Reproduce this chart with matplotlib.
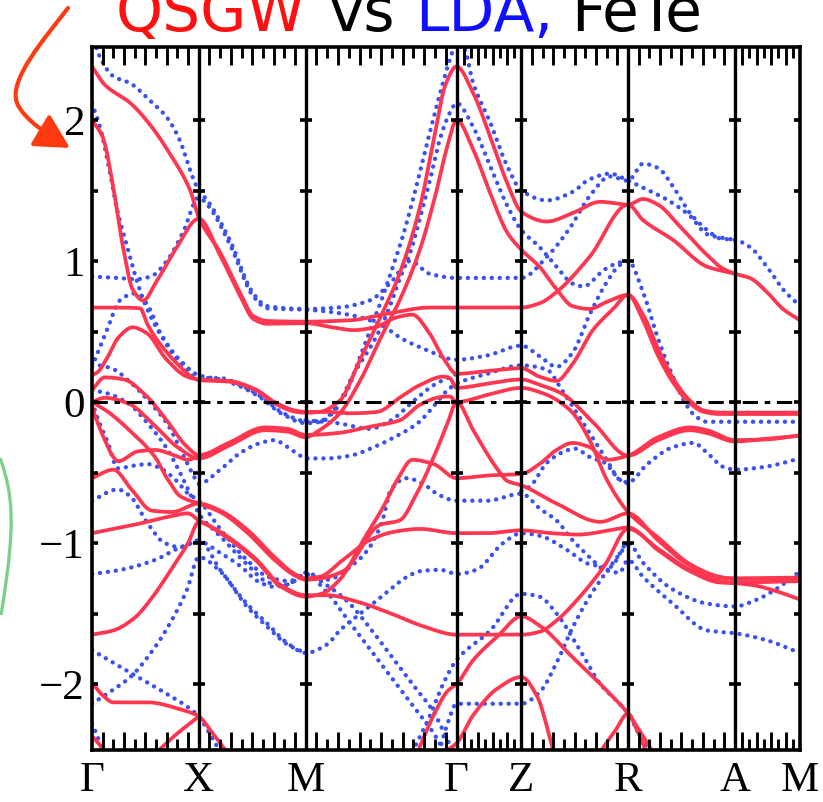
import numpy as np
import matplotlib
matplotlib.use("Agg")
import matplotlib.pyplot as plt
import matplotlib.transforms as mtransforms
from matplotlib.path import Path
from matplotlib.patches import PathPatch, FancyArrowPatch

# high-symmetry path (units of pi/a), FeTe tetragonal cell
k_points = [0.0, 1.0, 2.0, 3.414, 4.02, 5.02, 6.02, 6.63]
k_labels = ["Γ", "X", "M", "Γ", "Z", "R", "A", "M"]
kpts_per_segment = [10, 10, 14, 9, 10, 10, 9]
e_min, e_max = -2.468, 2.518

# QSGW bands, (k, E in eV) knots
qsgw_upper = [
    [(0, 2.38), (0.12, 2.25), (0.36, 2.12), (0.54, 1.97), (0.73, 1.76), (0.92, 1.50), (1.0, 1.31),
     (1.2, 1.06), (1.39, 0.77), (1.51, 0.61), (1.64, 0.575), (2.0, 0.57), (2.42, 0.58), (2.79, 0.63),
     (3.16, 0.67), (3.414, 0.67), (3.7, 0.67), (4.02, 0.67), (4.19, 0.70), (4.35, 0.78), (4.66, 1.03),
     (5.02, 1.40), (5.16, 1.29), (5.44, 1.15), (5.76, 0.96), (6.02, 0.91)],
    [(0, 2.0), (0.1, 1.88), (0.2, 1.52), (0.29, 1.10), (0.38, 0.80), (0.48, 0.72), (0.6, 0.85),
     (0.78, 1.08), (1.0, 1.30), (1.2, 1.04), (1.39, 0.75), (1.51, 0.59), (1.64, 0.555), (2.0, 0.56),
     (2.25, 0.53), (2.45, 0.51), (2.65, 0.53), (2.85, 0.6), (3.0, 0.62), (3.15, 0.5), (3.3, 0.3),
     (3.414, 0.2), (3.7, 0.22), (4.02, 0.24), (4.19, 0.18), (4.35, 0.15), (4.5, 0.27), (4.69, 0.51),
     (4.88, 0.66), (5.02, 0.76), (5.16, 0.58), (5.3, 0.33), (5.44, 0.14), (5.6, -0.01), (5.73, -0.07),
     (5.88, -0.085), (6.02, -0.085), (6.63, -0.085)],
    [(0, 0.67), (0.25, 0.67), (0.45, 0.665), (0.52, 0.55), (0.61, 0.44), (0.8, 0.27), (0.95, 0.17),
     (1.0, 0.156), (1.28, 0.145), (1.53, 0.085), (1.71, -0.01), (1.9, -0.068), (2.0, -0.076),
     (2.13, -0.07), (2.32, 0.01), (2.51, 0.3), (2.7, 0.6), (2.88, 0.91), (3.07, 1.38), (3.2, 1.86),
     (3.31, 2.25), (3.414, 2.38), (3.57, 2.19), (3.73, 1.88), (3.89, 1.55), (4.02, 1.35), (4.26, 1.28),
     (4.5, 1.34), (4.76, 1.42), (5.02, 1.40), (5.16, 1.44), (5.3, 1.40), (5.5, 1.25), (5.75, 1.05),
     (5.9, 0.95), (6.02, 0.91), (6.16, 0.88), (6.32, 0.78), (6.47, 0.66), (6.63, 0.58)],
]

qsgw_fermi = [
    [(0, 0.19), (0.05, 0.21), (0.14, 0.31), (0.25, 0.46), (0.38, 0.53), (0.51, 0.49), (0.7, 0.30),
     (0.89, 0.18), (1.0, 0.16), (1.28, 0.15), (1.53, 0.09), (1.71, 0.0), (1.9, -0.06), (2.0, -0.07),
     (2.2, -0.07), (2.42, -0.08), (2.67, -0.07), (2.88, 0.03), (3.07, 0.12), (3.29, 0.18), (3.35, 0.17),
     (3.414, 0.10), (3.7, 0.13), (4.02, 0.16), (4.2, 0.12), (4.4, 0.06), (4.7, -0.15), (5.02, -0.38),
     (5.3, -0.27), (5.6, -0.2), (5.76, -0.22), (6.02, -0.28), (6.32, -0.26), (6.63, -0.24)],
    [(0, 0.085), (0.12, 0.175), (0.3, 0.16), (0.5, 0.05), (0.7, -0.13), (0.88, -0.31), (1.0, -0.376),
     (1.28, -0.29), (1.62, -0.18), (1.83, -0.19), (2.0, -0.234), (2.3, -0.22), (2.6, -0.175),
     (2.88, -0.13), (3.07, -0.02), (3.26, 0.035), (3.35, 0.04), (3.414, 0.0), (3.7, 0.05), (4.02, 0.1),
     (4.23, 0.06), (4.48, -0.06), (4.66, -0.27), (4.82, -0.55), (5.02, -0.78), (5.3, -0.96),
     (5.6, -1.15), (5.88, -1.24), (6.02, -1.255), (6.63, -1.25)],
    [(0, 0.0), (0.12, 0.03), (0.34, -0.01), (0.59, -0.17), (0.8, -0.32), (1.0, -0.40), (1.28, -0.31),
     (1.62, -0.2), (1.83, -0.21), (2.0, -0.25), (2.13, -0.2), (2.32, -0.08), (2.51, 0.15), (2.7, 0.45),
     (2.88, 0.72), (3.07, 1.08), (3.21, 1.45), (3.33, 1.82), (3.414, 2.0), (3.57, 1.79), (3.73, 1.48),
     (3.89, 1.20), (4.02, 1.08), (4.19, 0.96), (4.35, 0.80), (4.5, 0.68), (4.66, 0.66), (4.82, 0.71),
     (5.02, 0.76), (5.16, 0.62), (5.3, 0.38), (5.44, 0.17), (5.6, 0.01), (5.73, -0.06), (5.88, -0.075),
     (6.02, -0.075), (6.63, -0.075)],
    [(0, -0.03), (0.03, -0.1), (0.12, -0.27), (0.2, -0.39), (0.245, -0.42), (0.43, -0.35),
     (0.59, -0.34), (0.78, -0.38), (0.9, -0.41), (1.0, -0.38)],
]

qsgw_lower = [
    [(0, -1.65), (0.2, -1.62), (0.4, -1.53), (0.55, -1.40), (0.74, -1.19), (0.9, -1.0), (1.0, -0.85),
     (1.2, -0.93), (1.53, -1.12), (1.77, -1.31), (2.0, -1.38), (2.15, -1.36), (2.32, -1.26),
     (2.54, -0.98), (2.73, -0.74), (2.86, -0.55), (3.0, -0.41), (3.2, -0.44), (3.414, -0.54),
     (3.73, -0.52), (4.02, -0.51), (4.19, -0.44), (4.35, -0.34), (4.5, -0.29), (4.66, -0.32),
     (4.82, -0.41), (5.02, -0.38), (5.3, -0.25), (5.6, -0.18), (5.76, -0.2), (6.02, -0.27),
     (6.32, -0.265), (6.63, -0.235)],
    [(0, -0.54), (0.2, -0.48), (0.37, -0.62), (0.56, -0.77), (0.75, -0.78), (1.0, -0.72), (1.2, -0.77),
     (1.46, -0.91), (1.71, -1.10), (1.9, -1.22), (2.0, -1.25), (2.13, -1.24), (2.35, -1.12),
     (2.6, -0.98), (2.83, -0.92), (3.07, -0.9), (3.414, -0.93), (3.7, -0.93), (4.02, -0.91),
     (4.3, -0.93), (4.55, -0.94), (4.85, -0.91), (5.02, -0.89), (5.3, -1.05), (5.6, -1.2),
     (5.88, -1.28), (6.02, -1.285), (6.2, -1.3), (6.4, -1.34), (6.63, -1.4)],
    [(0, -0.93), (0.4, -0.87), (0.74, -0.81), (0.9, -0.79), (1.0, -0.84), (1.2, -0.92), (1.53, -1.11),
     (1.77, -1.30), (2.0, -1.37), (2.2, -1.37), (2.5, -1.42), (2.8, -1.5), (3.1, -1.59), (3.414, -1.65),
     (3.7, -1.65), (4.02, -1.65), (4.19, -1.63), (4.35, -1.55), (4.57, -1.38), (4.8, -1.16),
     (5.02, -0.9), (5.3, -1.04), (5.6, -1.19), (5.88, -1.27), (6.02, -1.28), (6.63, -1.27)],
    [(0, 0.0), (0.15, -0.07), (0.35, -0.2), (0.59, -0.39), (0.71, -0.55), (0.83, -0.67), (1.0, -0.72),
     (1.2, -0.78), (1.46, -0.93), (1.71, -1.12), (1.9, -1.23), (2.0, -1.26), (2.15, -1.25),
     (2.35, -1.2), (2.7, -0.87), (2.88, -0.84), (3.04, -0.65), (3.2, -0.39), (3.33, -0.15),
     (3.414, 0.0), (3.57, -0.2), (3.8, -0.48), (3.89, -0.56), (4.02, -0.59), (4.35, -0.72),
     (4.76, -0.85), (5.02, -0.79), (5.3, -0.98), (5.6, -1.16), (5.88, -1.245), (6.02, -1.25),
     (6.63, -1.245)],
    [(0, -1.99), (0.1, -2.08), (0.2, -2.13), (0.52, -2.13), (0.83, -2.18), (1.0, -2.23), (1.13, -2.35),
     (1.26, -2.48)],
    [(0.61, -2.48), (0.8, -2.35), (1.0, -2.23)],
    [(0, -2.37), (0.06, -2.42), (0.12, -2.48)],
    [(3.05, -2.48), (3.2, -2.22), (3.33, -2.05), (3.414, -2.0), (3.57, -1.83), (3.8, -1.66),
     (4.02, -1.52), (4.2, -1.59), (4.5, -1.81), (4.76, -2.0), (5.02, -2.21), (5.16, -2.37),
     (5.25, -2.48)],
    [(3.3, -2.48), (3.414, -2.42), (3.57, -2.22), (3.8, -2.03), (4.02, -1.95), (4.17, -2.09),
     (4.27, -2.33), (4.32, -2.48)],
    [(4.76, -2.48), (4.9, -2.33), (5.02, -2.21), (5.1, -2.32), (5.19, -2.48)],
]

# LDA bands, (k, E in eV) knots
lda_upper = [
    [(0, 2.62), (0.06, 2.47), (0.2, 2.31), (0.36, 2.26), (0.54, 2.14), (0.7, 2.02), (0.82, 1.86),
     (0.94, 1.60), (1.0, 1.50), (1.08, 1.43), (1.29, 1.15), (1.51, 0.77), (1.64, 0.68), (2.0, 0.66),
     (2.3, 0.67), (2.6, 0.72), (2.8, 0.85), (2.98, 1.0), (3.16, 0.91), (3.414, 0.88), (3.7, 0.88),
     (4.02, 0.88), (4.26, 1.03), (4.48, 1.24), (4.66, 1.46), (4.85, 1.60), (5.02, 1.57), (5.16, 1.69),
     (5.3, 1.66), (5.44, 1.53), (5.6, 1.34), (5.76, 1.22), (5.88, 1.16), (6.02, 1.15), (6.16, 1.10),
     (6.32, 0.96), (6.47, 0.80), (6.63, 0.68)],
    [(0, 2.12), (0.075, 1.95), (0.17, 1.62), (0.23, 1.38), (0.33, 1.10), (0.42, 0.86), (0.51, 0.67),
     (0.64, 0.48), (0.8, 0.30), (1.0, 0.17), (1.2, 0.17), (1.39, 0.12), (1.58, 0.04), (1.77, -0.07),
     (1.95, -0.13), (2.0, -0.14), (2.15, -0.13), (2.3, -0.02), (2.45, 0.2), (2.6, 0.38), (2.7, 0.52),
     (2.79, 0.68), (2.88, 0.87), (2.98, 1.06), (3.07, 1.3), (3.16, 1.56), (3.26, 1.87), (3.35, 2.05),
     (3.414, 2.12), (3.57, 1.95), (3.73, 1.67), (3.89, 1.39), (4.02, 1.22), (4.19, 1.10), (4.35, 0.96),
     (4.5, 0.84), (4.6, 0.82), (4.8, 0.94), (4.94, 0.99), (5.02, 1.0)],
    [(0, 0.89), (0.25, 0.88), (0.4, 0.87), (0.55, 0.89), (0.7, 1.0), (0.85, 1.2), (1.0, 1.45),
     (1.08, 1.40), (1.29, 1.12), (1.51, 0.75), (1.64, 0.665), (2.0, 0.655), (2.4, 0.62), (2.7, 0.55),
     (2.9, 0.45), (3.1, 0.38), (3.414, 0.3), (3.7, 0.33), (4.02, 0.4), (4.2, 0.32), (4.35, 0.25),
     (4.5, 0.35), (4.66, 0.62), (4.82, 0.85), (4.94, 0.97), (5.02, 1.0), (5.16, 0.78), (5.3, 0.45),
     (5.44, 0.18), (5.55, 0.0), (5.65, -0.1), (5.76, -0.14), (6.02, -0.14), (6.63, -0.14)],
    [(0, 0.25), (0.14, 0.51), (0.26, 0.72), (0.4, 0.77), (0.51, 0.70), (0.64, 0.49), (0.82, 0.30),
     (1.0, 0.19), (1.2, 0.16), (1.39, 0.11), (1.58, 0.03), (1.77, -0.08), (2.0, -0.15), (2.15, -0.14),
     (2.25, -0.08), (2.39, 0.08), (2.5, 0.3), (2.6, 0.5), (2.7, 0.7), (2.8, 0.92), (2.9, 1.15),
     (3.0, 1.42), (3.1, 1.72), (3.2, 2.02), (3.3, 2.3), (3.36, 2.45), (3.414, 2.55), (3.48, 2.52),
     (3.57, 2.26), (3.73, 1.98), (3.89, 1.67), (4.02, 1.50), (4.26, 1.43), (4.5, 1.49), (4.66, 1.58),
     (4.85, 1.62), (5.02, 1.57), (5.16, 1.52), (5.35, 1.45), (5.6, 1.32), (5.76, 1.19), (6.02, 1.15)],
]

lda_fermi = [
    [(0, 0.27), (0.18, 0.24), (0.36, 0.14), (0.55, -0.01), (0.71, -0.16), (0.83, -0.34), (0.95, -0.52),
     (1.0, -0.58), (1.2, -0.48), (1.39, -0.36), (1.58, -0.29), (1.71, -0.27), (1.83, -0.32),
     (1.95, -0.38), (2.0, -0.40), (2.2, -0.4), (2.42, -0.38), (2.64, -0.32), (2.83, -0.25),
     (3.05, -0.15), (3.2, -0.03), (3.33, 0.085), (3.414, 0.13), (3.7, 0.2), (4.02, 0.26), (4.26, 0.23),
     (4.4, 0.085), (4.5, -0.03), (4.66, -0.22), (4.82, -0.41), (4.94, -0.55), (5.02, -0.57),
     (5.2, -0.44), (5.44, -0.32), (5.63, -0.29), (5.76, -0.36), (5.91, -0.46), (6.02, -0.48),
     (6.3, -0.46), (6.63, -0.40)],
    [(2.0, -0.13), (2.3, -0.15), (2.6, -0.19), (2.8, -0.13), (3.0, 0.0), (3.2, 0.12), (3.414, 0.2)],
    [(0, 0.0), (0.06, -0.13), (0.15, -0.29), (0.24, -0.47), (0.4, -0.45), (0.52, -0.44), (0.64, -0.47),
     (0.78, -0.55), (0.9, -0.65), (1.0, -0.70), (1.2, -0.9), (1.45, -1.12), (1.65, -1.24),
     (1.85, -1.27), (2.0, -1.22), (2.2, -1.3), (2.4, -1.42), (2.6, -1.6), (2.8, -1.8), (3.0, -2.0),
     (3.2, -2.2), (3.3, -2.35), (3.38, -2.48)],
    [(4.02, -0.63), (4.1, -0.6), (4.26, -0.43), (4.46, -0.34), (4.52, -0.33), (4.66, -0.39),
     (4.8, -0.43), (4.94, -0.55), (5.02, -0.58)],
]

lda_lower = [
    [(0, 0.085), (0.15, 0.06), (0.34, -0.01), (0.52, -0.15), (0.71, -0.34), (0.83, -0.51),
     (0.93, -0.67), (1.0, -0.79), (1.2, -0.95), (1.45, -1.15), (1.65, -1.28), (1.8, -1.3),
     (1.93, -1.25), (2.0, -1.21), (2.2, -1.26), (2.45, -1.15), (2.6, -1.03), (2.72, -0.84),
     (2.8, -0.62), (2.95, -0.54), (3.1, -0.58), (3.25, -0.66), (3.414, -0.70), (3.7, -0.70),
     (4.02, -0.65), (4.2, -0.76), (4.35, -0.84), (4.5, -0.98), (4.66, -1.1), (4.8, -1.19),
     (4.94, -1.21), (5.02, -1.12), (5.16, -1.24), (5.44, -1.43), (5.76, -1.62), (6.02, -1.64),
     (6.32, -1.69), (6.63, -1.78)],
    [(0, -0.70), (0.24, -0.62), (0.36, -0.67), (0.52, -0.86), (0.68, -1.0), (0.83, -1.03),
     (1.0, -0.98), (1.2, -1.19), (1.45, -1.43), (1.64, -1.57), (1.83, -1.71), (2.0, -1.78),
     (2.2, -1.72), (2.32, -1.62), (2.48, -1.52), (2.63, -1.43), (2.79, -1.33), (2.95, -1.24),
     (3.07, -1.2), (3.26, -1.19), (3.414, -1.22), (3.6, -1.19), (3.85, -1.0), (4.02, -0.93),
     (4.2, -0.95), (4.45, -1.05), (4.66, -1.15), (4.85, -1.17), (5.02, -1.0), (5.16, -1.14),
     (5.44, -1.33), (5.76, -1.43), (6.02, -1.45), (6.2, -1.41), (6.4, -1.33), (6.63, -1.2)],
    [(0, -1.22), (0.27, -1.19), (0.59, -1.12), (0.83, -1.03), (1.0, -0.99), (1.2, -1.07), (1.4, -1.17),
     (1.55, -1.27), (1.7, -1.31), (1.85, -1.29), (2.0, -1.22), (2.2, -1.35), (2.4, -1.55),
     (2.6, -1.75), (2.8, -1.95), (3.0, -2.15), (3.2, -2.35), (3.3, -2.48)],
    [(0, -1.76), (0.2, -1.85), (0.36, -1.92), (0.52, -1.99), (0.7, -2.07), (0.89, -2.16), (1.0, -2.23),
     (1.1, -2.35), (1.2, -2.48)],
    [(0, -2.14), (0.2, -2.04), (0.36, -1.95), (0.57, -1.76), (0.73, -1.57), (0.89, -1.33), (1.0, -1.1),
     (1.2, -1.2), (1.45, -1.45), (1.65, -1.6), (1.83, -1.72), (2.0, -1.78)],
    [(0, -2.28), (0.05, -2.37), (0.1, -2.48)],
    [(3.0, -2.48), (3.15, -2.25), (3.3, -1.98), (3.414, -1.83), (3.73, -1.62), (4.02, -1.36),
     (4.19, -1.38), (4.35, -1.5), (4.57, -1.76), (4.76, -2.0), (4.94, -2.14), (5.02, -2.21),
     (5.12, -2.35), (5.22, -2.48)],
    [(3.25, -2.48), (3.33, -2.28), (3.414, -2.14), (3.7, -2.14), (4.02, -2.14), (4.19, -2.06),
     (4.35, -1.85), (4.5, -1.6), (4.66, -1.38), (4.82, -1.2), (5.02, -1.0)],
]


def pchip(xk, yk, xs):
    xk = np.asarray(xk, float)
    yk = np.asarray(yk, float)
    h = np.diff(xk)
    d = np.diff(yk) / h
    m = np.zeros_like(yk)
    if len(xk) > 2:
        for i in range(1, len(xk) - 1):
            if d[i - 1] * d[i] > 0:
                w1 = 2 * h[i] + h[i - 1]
                w2 = h[i] + 2 * h[i - 1]
                m[i] = (w1 + w2) / (w1 / d[i - 1] + w2 / d[i])
    m[0] = d[0]
    m[-1] = d[-1]
    idx = np.clip(np.searchsorted(xk, xs) - 1, 0, len(xk) - 2)
    t = (xs - xk[idx]) / h[idx]
    h00 = 2 * t**3 - 3 * t**2 + 1
    h10 = t**3 - 2 * t**2 + t
    h01 = -2 * t**3 + 3 * t**2
    h11 = t**3 - t**2
    return (h00 * yk[idx] + h10 * h[idx] * m[idx]
            + h01 * yk[idx + 1] + h11 * h[idx] * m[idx + 1])


def band_curve(points):
    k = [p[0] for p in points]
    e = [p[1] for p in points]
    ks = np.linspace(k[0], k[-1], int((k[-1] - k[0]) * 150) + 2)
    return ks, pchip(k, e, ks)


plt.rcParams["font.family"] = ["Liberation Serif", "DejaVu Serif"]
plt.rcParams["axes.unicode_minus"] = True

fig = plt.figure(figsize=(8.23, 8.02), dpi=100)
ax = fig.add_axes([92 / 823, 1 - 750 / 802, 708 / 823, 703 / 802])
ax.set_xlim(k_points[0], k_points[-1])
ax.set_ylim(e_min, e_max)

lda_color = "#3a52ee"
qsgw_color = "#ff3650"

for band in lda_upper + lda_fermi + lda_lower:
    ks, es = band_curve(band)
    ax.plot(ks, es, color=lda_color, lw=3.1, linestyle=(0, (0.05, 1.8)),
            dash_capstyle="round", zorder=2)

for band in qsgw_upper + qsgw_fermi + qsgw_lower:
    ks, es = band_curve(band)
    ax.plot(ks, es, color=qsgw_color, lw=2.7, solid_capstyle="round", zorder=3)

# symmetry lines with small energy marks every 0.5 eV
marks = np.arange(-2.0, 2.01, 0.5)
for kp in k_points:
    if 0 < kp < k_points[-1]:
        ax.axvline(kp, color="black", lw=2.4, zorder=4)
    ax.plot([kp] * len(marks), marks, ls="none", marker="_", ms=8, mew=2.6,
            color="black", zorder=4)

# Fermi level
ax.axhline(0.0, color="black", lw=2.2, linestyle=(0, (5, 2.2, 1.8, 2.2)), zorder=5)

# k-mesh ticks along top and bottom
trans = mtransforms.blended_transform_factory(ax.transData, ax.transAxes)
for i, n in enumerate(kpts_per_segment):
    ticks = np.linspace(k_points[i], k_points[i + 1], n + 1)[1:-1]
    for j, kt in enumerate(ticks):
        length = 0.026 if j % 2 == 0 else 0.015
        ax.plot([kt, kt], [1, 1 - length], transform=trans, color="black", lw=2.1,
                solid_capstyle="butt", zorder=5)
        ax.plot([kt, kt], [0, length], transform=trans, color="black", lw=2.1,
                solid_capstyle="butt", zorder=5)

for side in ax.spines.values():
    side.set_linewidth(2.6)
    side.set_zorder(6)

ax.set_xticks(k_points)
ax.set_xticklabels(k_labels, fontsize=31)
ax.set_yticks([-2, -1, 0, 1, 2])
ax.set_yticklabels(["\u22122", "\u22121", "0", "1", "2"], fontsize=31)
ax.tick_params(axis="both", length=0)
ax.tick_params(axis="x", pad=8)
ax.tick_params(axis="y", pad=5)

# heading words
title_font = {"family": "DejaVu Sans", "fontsize": 43}
for word, color, xpx in [("QSGW", "#ff1010", 116), ("vs", "black", 328),
                         ("LDA,", "#1010ff", 415), ("FeTe", "black", 571)]:
    fig.text(xpx / 823, 1 - 31 / 802, word, color=color, ha="left", va="baseline",
             **title_font)


def fpt(x, y):
    return (x / 823, 1 - y / 802)


# hand-drawn arrow pointing at the 2 eV label
arrow_path = Path([fpt(68, 8), fpt(45, 38), fpt(8, 80), fpt(17, 103),
                   fpt(24, 120), fpt(50, 136), fpt(70, 148)],
                  [Path.MOVETO, Path.CURVE4, Path.CURVE4, Path.CURVE4,
                   Path.CURVE4, Path.CURVE4, Path.CURVE4])
arrow = FancyArrowPatch(path=arrow_path, arrowstyle="-|>,head_length=0.75,head_width=0.4",
                        mutation_scale=28, color="#ff3a10", lw=3.0,
                        transform=fig.transFigure)
fig.add_artist(arrow)

# green bracket at the left margin
green_path = Path([fpt(0, 458), fpt(8, 480), fpt(12, 500), fpt(11, 530),
                   fpt(10, 560), fpt(5, 590), fpt(1, 615)],
                  [Path.MOVETO, Path.CURVE4, Path.CURVE4, Path.CURVE4,
                   Path.CURVE4, Path.CURVE4, Path.CURVE4])
fig.add_artist(PathPatch(green_path, fill=False, edgecolor="#7dcf8e", lw=2.4,
                         transform=fig.transFigure))

fig.savefig("out.png", dpi=100)
